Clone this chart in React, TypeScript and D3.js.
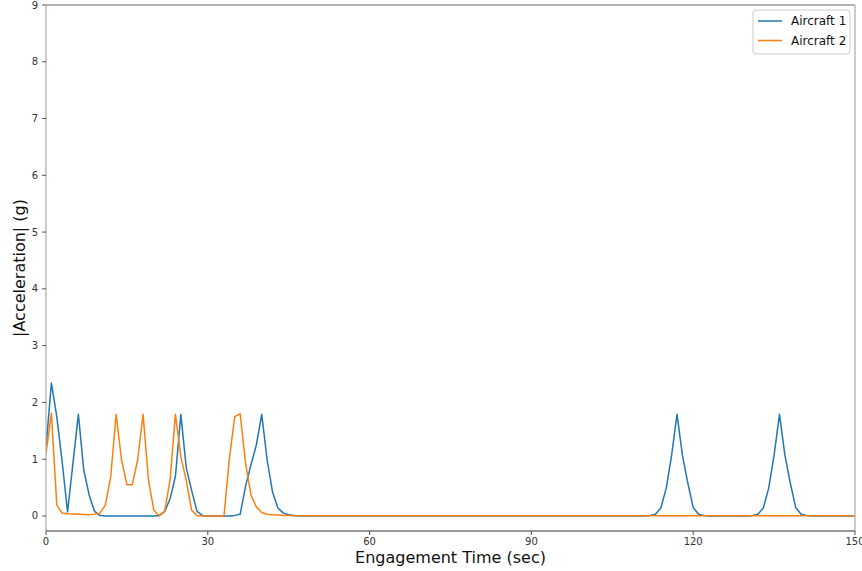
import React from "react";
import * as d3 from "d3";

const time: number[] = Array.from({ length: 151 }, (_, i) => i);

const aircraft1: number[] = [
  1.2, 2.34, 1.75, 0.95, 0.07, 0.93, 1.79, 0.81, 0.37, 0.08,
  0.01, 0, 0, 0, 0, 0, 0, 0, 0, 0,
  0, 0.01, 0.08, 0.3, 0.7, 1.79, 0.85, 0.45, 0.08, 0.01,
  0, 0, 0, 0, 0, 0.01, 0.03, 0.52, 0.9, 1.25,
  1.79, 0.99, 0.42, 0.14, 0.05, 0.02, 0.01, 0, 0, 0,
  0, 0, 0, 0, 0, 0, 0, 0, 0, 0,
  0, 0, 0, 0, 0, 0, 0, 0, 0, 0,
  0, 0, 0, 0, 0, 0, 0, 0, 0, 0,
  0, 0, 0, 0, 0, 0, 0, 0, 0, 0,
  0, 0, 0, 0, 0, 0, 0, 0, 0, 0,
  0, 0, 0, 0, 0, 0, 0, 0, 0, 0,
  0, 0, 0.01, 0.03, 0.14, 0.49, 1.07, 1.79, 1.07, 0.58,
  0.15, 0.03, 0.01, 0, 0, 0, 0, 0, 0, 0,
  0, 0.01, 0.03, 0.14, 0.49, 1.07, 1.79, 1.07, 0.58, 0.15,
  0.03, 0.01, 0, 0, 0, 0, 0, 0, 0, 0,
  0,
];

const aircraft2: number[] = [
  1.1, 1.81, 0.19, 0.05, 0.04, 0.035, 0.03, 0.025, 0.02, 0.03,
  0.05, 0.19, 0.69, 1.79, 0.99, 0.55, 0.55, 0.99, 1.79, 0.63,
  0.1, 0, 0.08, 0.63, 1.79, 1.04, 0.63, 0.1, 0.01, 0,
  0, 0, 0, 0, 1.01, 1.75, 1.8, 0.93, 0.37, 0.16,
  0.06, 0.03, 0.02, 0.015, 0.01, 0.01, 0.005, 0.005, 0.005, 0.005,
  0.005, 0.005, 0.005, 0.005, 0.005, 0.005, 0.005, 0.005, 0.005, 0.005,
  0.005, 0.005, 0.005, 0.005, 0.005, 0.005, 0.005, 0.005, 0.005, 0.005,
  0.005, 0.005, 0.005, 0.005, 0.005, 0.005, 0.005, 0.005, 0.005, 0.005,
  0.005, 0.005, 0.005, 0.005, 0.005, 0.005, 0.005, 0.005, 0.005, 0.005,
  0.005, 0.005, 0.005, 0.005, 0.005, 0.005, 0.005, 0.005, 0.005, 0.005,
  0.005, 0.005, 0.005, 0.005, 0.005, 0.005, 0.005, 0.005, 0.005, 0.005,
  0.005, 0.005, 0.005, 0.005, 0.005, 0.005, 0.005, 0.005, 0.005, 0.005,
  0.005, 0.005, 0.005, 0.005, 0.005, 0.005, 0.005, 0.005, 0.005, 0.005,
  0.005, 0.005, 0.005, 0.005, 0.005, 0.005, 0.005, 0.005, 0.005, 0.005,
  0.005, 0.005, 0.005, 0.005, 0.005, 0.005, 0.005, 0.005, 0.005, 0.005,
  0.005,
];

const seriesNames: string[] = ["Aircraft 1", "Aircraft 2"];
const seriesColors: string[] = ["#1f77b4", "#ff7f0e"];
const xTicks: number[] = [0, 30, 60, 90, 120, 150];
const yTicks: number[] = [0, 1, 2, 3, 4, 5, 6, 7, 8, 9];
const xLabel = "Engagement Time (sec)";
const yLabel = "|Acceleration| (g)";

const W = 862;
const H = 571;
const left = 46;
const right = 855;
const top = 5;
const bottom = 531;
const FONT = "'DejaVu Sans', sans-serif";

export default function App() {
  const x = d3.scaleLinear().domain([0, 150]).range([left, right]);
  const y = d3.scaleLinear().domain([-0.265, 9]).range([bottom, top]);
  const line = d3
    .line<number>()
    .x((_, i) => x(time[i]))
    .y((d) => y(d));
  const series = [aircraft1, aircraft2];

  return (
    <svg
      width={W}
      height={H}
      style={{ position: "absolute", left: 0, top: 0, background: "#fff" }}
      fontFamily={FONT}
    >
      <rect x={0} y={0} width={W} height={H} fill="#fff" />
      <defs>
        <clipPath id="plot">
          <rect x={left} y={top} width={right - left} height={bottom - top} />
        </clipPath>
      </defs>
      <g clipPath="url(#plot)">
        {series.map((s, k) => (
          <path
            key={k}
            d={line(s) || ""}
            fill="none"
            stroke={seriesColors[k]}
            strokeWidth={1.5}
            strokeLinejoin="round"
          />
        ))}
      </g>
      {/* spines */}
      <line x1={left} x2={right} y1={top} y2={top} stroke="#666" strokeWidth={1} />
      <line x1={left} x2={left} y1={top} y2={bottom} stroke="#aaa" strokeWidth={1.2} />
      <line x1={right} x2={right} y1={top} y2={bottom} stroke="#aaa" strokeWidth={1.2} />
      <line x1={left} x2={right} y1={bottom} y2={bottom} stroke="#333" strokeWidth={1} />
      {/* x ticks */}
      {xTicks.map((t) => (
        <g key={"x" + t}>
          <line x1={x(t)} x2={x(t)} y1={bottom} y2={bottom + 4} stroke="#555" />
          <text
            x={x(t)}
            y={bottom + 14}
            textAnchor="middle"
            fontSize={10}
            fill="#333"
          >
            {t}
          </text>
        </g>
      ))}
      {/* y ticks */}
      {yTicks.map((t) => (
        <g key={"y" + t}>
          <line x1={left - 4} x2={left} y1={y(t)} y2={y(t)} stroke="#555" />
          <text
            x={left - 8}
            y={y(t)}
            dy="0.35em"
            textAnchor="end"
            fontSize={10}
            fill="#333"
          >
            {t}
          </text>
        </g>
      ))}
      <text
        x={(left + right) / 2}
        y={563}
        textAnchor="middle"
        fontSize={16}
        fill="#111"
      >
        {xLabel}
      </text>
      <text
        transform={`translate(25, ${(top + bottom) / 2}) rotate(-90)`}
        textAnchor="middle"
        fontSize={16}
        fill="#111"
      >
        {yLabel}
      </text>
      {/* legend */}
      <g>
        <rect
          x={753}
          y={10}
          width={97}
          height={44}
          rx={3}
          fill="#fff"
          fillOpacity={0.8}
          stroke="#ccc"
        />
        {seriesNames.map((n, k) => (
          <g key={n}>
            <line
              x1={758}
              x2={782}
              y1={21 + k * 19.5}
              y2={21 + k * 19.5}
              stroke={seriesColors[k]}
              strokeWidth={1.5}
            />
            <text x={791} y={21 + k * 19.5} dy="0.35em" fontSize={12} fill="#111">
              {n}
            </text>
          </g>
        ))}
      </g>
    </svg>
  );
}
